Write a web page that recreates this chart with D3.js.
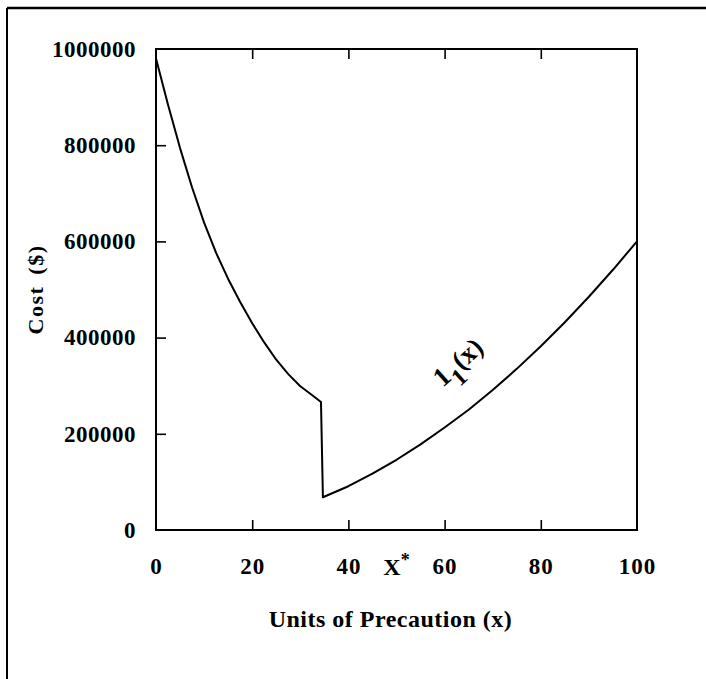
<!DOCTYPE html>
<html><head><meta charset="utf-8">
<script src="https://cdn.jsdelivr.net/npm/d3@7"></script>
<style>html,body{margin:0;padding:0;background:#fff;}svg{display:block;}</style>
</head><body>
<script>
const xTickValues=[0,20,40,60,80,100];
const yTickValues=[0,200000,400000,600000,800000,1000000];
const innerXTicks=[20,40,60,80];
const innerYTicks=[200000,400000,600000,800000];
const precaution=[0,2.5,5,7.5,10,12.5,15,17.5,20,22.5,25,27.5,30,32.5,34.3,34.7,40,45,50,55,60,65,70,75,80,85,90,95,100];
const cost=[980000,884000,794000,712000,639000,576000,522000,474000,430000,390000,354000,324000,299000,280000,266000,68000,91000,117000,146000,178000,213000,250000,291000,335000,382000,432000,485000,541000,600000];
const xStarValue=50;
const curveLabel={x:64,y:335000};

const W=706,H=679;
const svg=d3.select("body").append("svg").attr("width",W).attr("height",H);
const fam="'Liberation Serif','Times New Roman',serif";
// outer frame (left and top)
svg.append("line").attr("x1",7).attr("x2",7).attr("y1",8).attr("y2",H).attr("stroke","#000").attr("stroke-width",2);
svg.append("line").attr("x1",7).attr("x2",W).attr("y1",8).attr("y2",8).attr("stroke","#000").attr("stroke-width",2.5);

const L=156,R=637,T=49,B=530;
const x=d3.scaleLinear().domain([0,100]).range([L,R]);
const y=d3.scaleLinear().domain([0,1000000]).range([B,T]);

const g=svg.append("g");
g.append("rect").attr("x",L).attr("y",T).attr("width",R-L).attr("height",B-T).attr("fill","none").attr("stroke","#000").attr("stroke-width",2);

// inward ticks
const tl=10;
g.append("g").attr("transform",`translate(0,${B})`).call(d3.axisBottom(x).tickValues(innerXTicks).tickSize(-tl).tickFormat("")).call(a=>a.select(".domain").remove());
g.append("g").attr("transform",`translate(0,${T})`).call(d3.axisTop(x).tickValues(innerXTicks).tickSize(-tl).tickFormat("")).call(a=>a.select(".domain").remove());
g.append("g").attr("transform",`translate(${L},0)`).call(d3.axisLeft(y).tickValues(innerYTicks).tickSize(-tl).tickFormat("")).call(a=>a.select(".domain").remove());
g.selectAll(".tick line").attr("stroke","#000").attr("stroke-width",1.6);

// tick labels
const xl=g.append("g").attr("transform",`translate(0,${B})`).call(d3.axisBottom(x).tickValues(xTickValues).tickSize(0).tickPadding(28));
xl.select(".domain").remove();
xl.selectAll("text").attr("font-family",fam).attr("font-weight","bold").attr("font-size",23).attr("fill","#000").attr("letter-spacing",1);
const yl=g.append("g").attr("transform",`translate(${L},0)`).call(d3.axisLeft(y).tickValues(yTickValues).tickSize(0).tickPadding(20).tickFormat(d3.format("d")));
yl.select(".domain").remove();
yl.selectAll("text").attr("font-family",fam).attr("font-weight","bold").attr("font-size",23).attr("fill","#000").attr("letter-spacing",0.5);

// X* label
const xs=g.append("text").attr("x",x(xStarValue)).attr("y",B+28).attr("dy","0.71em").attr("text-anchor","middle")
  .attr("font-family",fam).attr("font-weight","bold").attr("font-size",24);
xs.append("tspan").text("X");
xs.append("tspan").attr("dy",-9).attr("font-size",18).text("*");

// curve
const pts=precaution.map((p,i)=>[p,cost[i]]);
g.append("path").datum(pts).attr("fill","none").attr("stroke","#000").attr("stroke-width",2).attr("stroke-linejoin","round")
  .attr("d",d3.line().x(d=>x(d[0])).y(d=>y(d[1])));

// curve label
const lab=g.append("text").attr("transform",`translate(${x(curveLabel.x)},${y(curveLabel.y)}) rotate(-42)`)
  .attr("text-anchor","middle").attr("font-family",fam).attr("font-weight","bold").attr("font-size",27);
lab.append("tspan").text("1");
lab.append("tspan").attr("dy",11).attr("font-size",24).text("1");
lab.append("tspan").attr("dy",-11).text("(x)");

// axis titles
svg.append("text").attr("x",(L+R)/2-6).attr("y",619).attr("dy","0.35em").attr("text-anchor","middle")
  .attr("font-family",fam).attr("font-weight","bold").attr("font-size",24).attr("letter-spacing",0.5).text("Units of Precaution (x)");
svg.append("text").attr("transform",`translate(35,${(T+B)/2}) rotate(-90)`).attr("dy","0.35em").attr("text-anchor","middle")
  .attr("font-family",fam).attr("font-weight","bold").attr("font-size",22).attr("letter-spacing",1.5).attr("word-spacing",4).text("Cost ($)");
</script>
</body></html>
